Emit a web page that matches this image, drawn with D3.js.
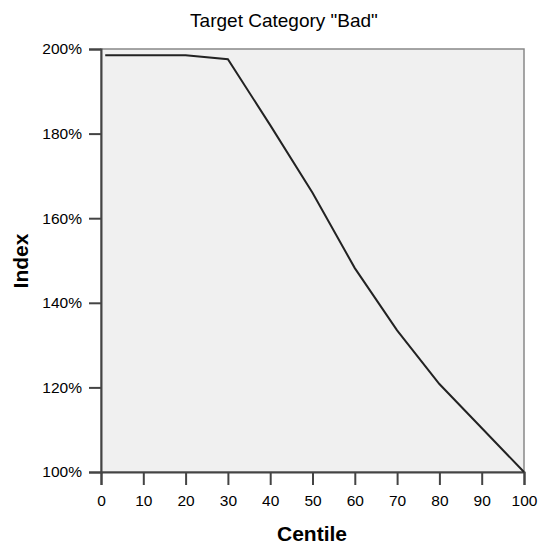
<!DOCTYPE html>
<html>
<head>
<meta charset="utf-8">
<script src="https://cdn.jsdelivr.net/npm/d3@7"></script>
<style>
  body { margin: 0; background: #fff; }
  svg text { font-family: "Liberation Sans", Arial, sans-serif; fill: #000; }
</style>
</head>
<body>
<div class="svg-container"></div>
<script>
// data
var centiles = [1, 10, 20, 30, 40, 50, 60, 70, 80, 90, 100];
var index = [198.5, 198.5, 198.5, 197.6, 182, 166, 148.2, 133.5, 120.8, 110.4, 100];
var xTicks = [0, 10, 20, 30, 40, 50, 60, 70, 80, 90, 100];
var yTicks = [100, 120, 140, 160, 180, 200];

var width = 538;
var height = 544;
var plotLeft = 101, plotRight = 524, plotTop = 49, plotBottom = 472;

var svg = d3.select(".svg-container").append("svg")
    .attr("width", width)
    .attr("height", height);

var x = d3.scaleLinear().domain([0, 100]).range([plotLeft, plotRight]);
var y = d3.scaleLinear().domain([100, 200]).range([plotBottom, plotTop]);

// plot background + frame
svg.append("rect")
    .attr("x", plotLeft)
    .attr("y", plotTop)
    .attr("width", plotRight - plotLeft)
    .attr("height", plotBottom - plotTop)
    .attr("fill", "#f0f0f0")
    .attr("stroke", "#888")
    .attr("stroke-width", 1.5);

// Y axis
var yAxis = svg.append("g")
    .attr("transform", "translate(" + plotLeft + ",0)")
    .call(d3.axisLeft(y).tickValues(yTicks).tickSize(12).tickPadding(7)
        .tickFormat(function(d) { return d + "%"; }));

// X axis
var xAxis = svg.append("g")
    .attr("transform", "translate(0," + plotBottom + ")")
    .call(d3.axisBottom(x).tickValues(xTicks).tickSize(13).tickPadding(10));

[yAxis, xAxis].forEach(function(g) {
    g.selectAll("path, line").attr("stroke", "#444").attr("stroke-width", 2);
    g.selectAll("text").style("font-size", "15.5px");
});

// line
var line = d3.line()
    .x(function(d, i) { return x(centiles[i]); })
    .y(function(d) { return y(d); });

svg.append("path")
    .datum(index)
    .attr("d", line)
    .attr("fill", "none")
    .attr("stroke", "#222")
    .attr("stroke-width", 2);

// title
svg.append("text")
    .attr("x", 284)
    .attr("y", 27)
    .style("text-anchor", "middle")
    .style("font-size", "19px")
    .text("Target Category \"Bad\"");

// X label
svg.append("text")
    .attr("x", 312)
    .attr("y", 541)
    .style("text-anchor", "middle")
    .style("font-size", "21px")
    .style("font-weight", "bold")
    .text("Centile");

// Y label
svg.append("text")
    .attr("transform", "translate(28,261) rotate(-90)")
    .style("text-anchor", "middle")
    .style("font-size", "21px")
    .style("font-weight", "bold")
    .text("Index");
</script>
</body>
</html>
